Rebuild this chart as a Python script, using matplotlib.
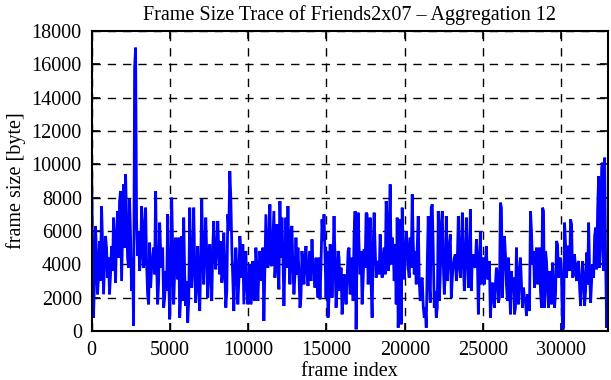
import numpy as np
import matplotlib
matplotlib.use("Agg")
import matplotlib.pyplot as plt

# Aggregated frame sizes (bytes).
# Readings at even pixel columns (every ~128 frames, starting at frame 0) ...
size_even_cols = [
    10400, 800, 6300, 2200, 5400, 7500, 2200, 5700, 3200, 2200,
    5100, 6800, 2900, 7200, 7800, 3000, 8800, 9400, 4400, 7900,
    2400, 300, 17000, 4500, 3600, 7500, 3800, 7400, 2200, 5300,
    3800, 5000, 8400, 1600, 6500, 3800, 1400, 3600, 7000, 700,
    8000, 1600, 5600, 3100, 800, 5700, 6800, 1500, 500, 7400,
    2600, 7400,
    1700, 5100, 1200, 7900, 2800, 6800, 2000, 5200, 1800, 6600,
    3700, 6600, 3400, 2900, 5900, 1400, 7000, 9600, 5000, 1200,
    5000, 1600, 5700, 3200, 1600, 4800, 1600, 4000, 2200, 3400,
    5000, 1800, 4800, 3000, 600, 7000, 3800, 7600, 3900, 7200,
    4400, 4000, 7800, 6800, 1500, 6800, 7500, 2800, 6300, 2200,
    5600,
    5000, 1400, 4800, 2800, 5100, 2700, 4800, 5500, 3600, 4400,
    2000, 1900, 6700, 7000, 2000, 800, 5200, 2000, 6900, 1400,
    4800, 2400, 1000, 3400, 1600, 4800, 2200, 4400, 5800, 100,
    7100, 3400, 1600, 4900, 7100, 2800, 6800, 800, 7100, 3200,
    4200, 5800, 3200, 5000, 7800, 3600, 8800, 5600, 3000, 1600,
    200, 6700,
    7400, 3100, 6000, 3800, 5600, 8200, 3400, 2800, 6900, 1800,
    3200, 800, 200, 6900, 1700, 7600, 1400, 800, 7200, 3400,
    7200, 2200, 6900, 4000, 5800, 3200, 4400, 3000, 6900, 3200,
    7100, 2400, 6800, 2600, 7300, 4400, 3900, 5500, 1000, 6000,
    3800, 2800, 5100, 3200, 800, 2900, 1400, 3800, 1700, 7700,
    2000,
    5700, 2800, 4400, 1000, 2400, 1000, 5000, 1600, 4400, 1400,
    2000, 900, 1900, 7200, 4000, 2600, 5000, 3200, 2400, 7400,
    1400, 4200, 1400, 2800, 4100, 1400, 5400, 3200, 4400, 0,
    6500, 3200, 5100, 6700, 3200, 4600, 3000, 4200, 1500, 4200,
    1500, 4700, 6500, 1700, 4000, 5700, 3700, 9300, 5000, 10100,
    10400, 200, 4000,
]
# ... and at the odd pixel columns in between
size_odd_cols = [
    5200, 3000, 4600, 3200, 3000, 5400, 4000, 5000, 4400, 3400,
    3600, 4800, 5800, 4400, 8400, 6000, 5000, 6800, 3800, 5600,
    4400, 15800, 6500, 6000, 4400, 6400, 5200, 4000, 1600, 2600,
    4400, 3400, 4000, 3000, 4800, 5000, 2000, 2400, 3400, 3000,
    5000, 3600, 4200, 5600, 2000, 1800, 3400, 3000, 1800, 4600,
    4200, 3800,
    3400, 2600, 4200, 4800, 5000, 4600, 3600, 3400, 5000, 4400,
    5200, 4800, 5400, 3600, 3800, 2400, 6000, 8000, 3000, 3400,
    3800, 3000, 4800, 5200, 3200, 2800, 3000, 1600, 4200, 1800,
    3800, 3600, 4000, 5000, 3800, 5400, 5000, 4000, 5600, 3200,
    6400, 2500, 4400, 4600, 4200, 3800, 4400, 6000, 3600, 3400,
    3400,
    3400, 2000, 3600, 4400, 3600, 4000, 3000, 3800, 2600, 3000,
    4400, 4000, 5400, 4600, 4800, 2000, 5000, 4200, 4000, 2600,
    4400, 3800, 2000, 3000, 3000, 5000, 2600, 1800, 7200, 4800,
    5000, 4800, 3000, 3800, 7000, 4200, 2800, 5000, 5000, 4000,
    3400, 4000, 4400, 3400, 6600, 6000, 4000, 5000, 5200, 6800,
    3200, 400,
    4800, 4400, 5300, 3200, 3800, 5400, 4800, 5000, 3000, 3000,
    1500, 1400, 4000, 3000, 7400, 4800, 2400, 1400, 1800, 6400,
    4000, 3400, 3000, 5200, 2000, 4000, 4600, 4200, 4000, 5000,
    4000, 4400, 4600, 4000, 2400, 4600, 3800, 4400, 3600, 2800,
    4400, 4000, 3100, 4200, 2000, 2200, 2800, 3400, 2000, 7400,
    4400,
    4600, 1800, 2800, 3600, 3200, 1400, 2600, 3600, 2800, 2600,
    1800, 2200, 1200, 6000, 4800, 3600, 2800, 5000, 1400, 7200,
    4800, 2400, 3600, 1600, 2600, 2200, 5200, 4000, 3200, 200,
    5200, 5000, 3600, 6400, 3400, 3600, 4000, 2600, 3000, 3200,
    2400, 2800, 3600, 3000, 3200, 6200, 7300, 3800, 9800, 3600,
    4200, 3600,
]
frames_per_point = 64.0

x_ticks = [0, 5000, 10000, 15000, 20000, 25000, 30000]
y_ticks = [0, 2000, 4000, 6000, 8000, 10000, 12000, 14000, 16000, 18000]

title = "Frame Size Trace of Friends2x07 \u2013 Aggregation 12"
xlabel = "frame index"
ylabel = "frame size [byte]"

# interleave the two sets of readings into one series
frame_size = []
for i, v in enumerate(size_even_cols):
    frame_size.append(v)
    if i < len(size_odd_cols):
        frame_size.append(size_odd_cols[i])
frame_size = np.array(frame_size, dtype=float)
frames = np.arange(len(frame_size)) * frames_per_point

plt.rcParams['font.family'] = ['Liberation Serif', 'DejaVu Serif']

W, H = 611, 380
fig = plt.figure(figsize=(W / 100, H / 100), dpi=100)
ax = fig.add_axes([91.5 / W, 1 - 331 / H, (607.5 - 91.5) / W, (331 - 31) / H])

ax.plot(frames, frame_size, color=(0, 0, 1), lw=2.0, solid_joinstyle='miter', zorder=3)

ax.set_xlim(0, 32950)
ax.set_ylim(0, 18000)
ax.set_xticks(x_ticks)
ax.set_yticks(y_ticks)
ax.set_xticklabels([str(v) for v in x_ticks])
ax.set_yticklabels([str(v) for v in y_ticks])

fs = 14.5
ax.tick_params(axis='both', which='major', direction='in', length=6, width=1.2,
               top=True, right=True, labelsize=fs, pad=7, colors='black')
ax.grid(True, color='black', linestyle=(0, (6, 5)), linewidth=1.0, zorder=1)
for s in ax.spines.values():
    s.set_linewidth(1.5)
    s.set_zorder(4)

ax.set_title(title, fontsize=fs, pad=8)
ax.set_xlabel(xlabel, fontsize=fs, labelpad=2)
ax.set_ylabel(ylabel, fontsize=fs, labelpad=4)

fig.savefig("out.png", dpi=100)
